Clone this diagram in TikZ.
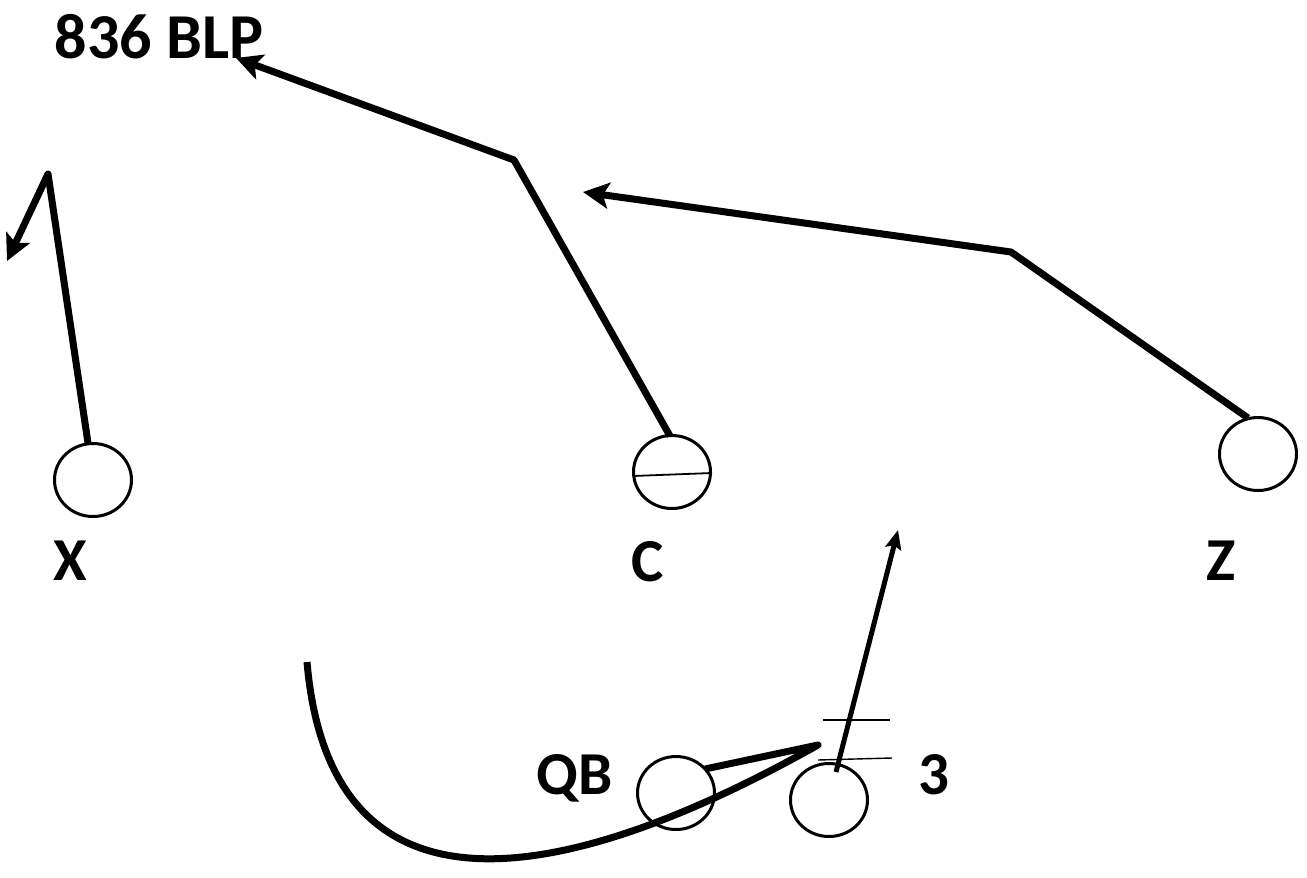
\documentclass[tikz,border=0pt]{standalone}
\usepackage{fontspec}
\setmainfont{Carlito}
\usetikzlibrary{shapes.geometric,arrows.meta}
\begin{document}
\begin{tikzpicture}[x=1pt,y=-1pt,
  player/.style={draw,ellipse,line width=3pt,minimum width=77pt,minimum height=73pt,inner sep=0pt},
  lbl/.style={font=\fontsize{61}{70}\selectfont\bfseries,anchor=base,inner sep=0pt},
  title/.style={font=\fontsize{64}{74}\selectfont\bfseries,anchor=base,inner sep=0pt},
  route/.style={line width=7pt,line join=round},
  thinroute/.style={line width=5pt},
  arr/.style={-{Stealth[length=26pt,width=26pt,inset=6pt]}},
  smallarr/.style={-{Stealth[length=19pt,width=16pt,inset=3pt]}},
  mark line/.style={line width=1.4pt}]
\useasboundingbox (0,0) rectangle (1307,878);
% players
\node[player] (X) at (93,480) {};
\node[player] (C) at (672,472) {};
\node[player] (Z) at (1258,454) {};
\node[player] (QB) at (676,793) {};
\node[player] (T) at (829,800) {};
% labels
\node[title] (ttl) at (159,58) {836 BLP};
\node[lbl] (Xl) at (70,580) {X};
\node[lbl] (Cl) at (648,581) {C};
\node[lbl] (Zl) at (1221,580) {Z};
\node[lbl] (QBl) at (575,794) {QB};
\node[lbl] (Tl) at (934,794) {3};
% C center line
\coordinate (c1) at (633,476);
\coordinate (c2) at (712,473);
\draw[line width=1.8pt] (c1) -- (c2);
% X route
\coordinate (xs) at (88,443);
\coordinate (xv) at (48,174);
\coordinate (xe) at (7,261);
\draw[route,arr] (xs) -- (xv) -- (xe);
% C route
\coordinate (cs) at (670,436);
\coordinate (cv) at (514,160);
\coordinate (ce) at (236,58);
\draw[route,arr] (cs) -- (cv) -- (ce);
% Z route
\coordinate (zs) at (1248,418);
\coordinate (zv) at (1011,252);
\coordinate (ze) at (583,192);
\draw[route,arr] (zs) -- (zv) -- (ze);
% 3 route
\coordinate (ts) at (836,772);
\coordinate (te) at (898,530);
\draw[thinroute,smallarr] (ts) -- (te);
% marks
\coordinate (m1) at (823,720);
\coordinate (m2) at (890,720);
\coordinate (m3) at (818,760);
\coordinate (m4) at (892,758);
\draw[mark line] (m1) -- (m2);
\draw[mark line] (m3) -- (m4);
% QB route
\coordinate (qs) at (705,769);
\coordinate (qv) at (818,745);
\coordinate (qe) at (307,662);
\draw[route] (qs) -- (qv) .. controls (560,890) and (330,930) .. (qe);
\end{tikzpicture}
\end{document}
